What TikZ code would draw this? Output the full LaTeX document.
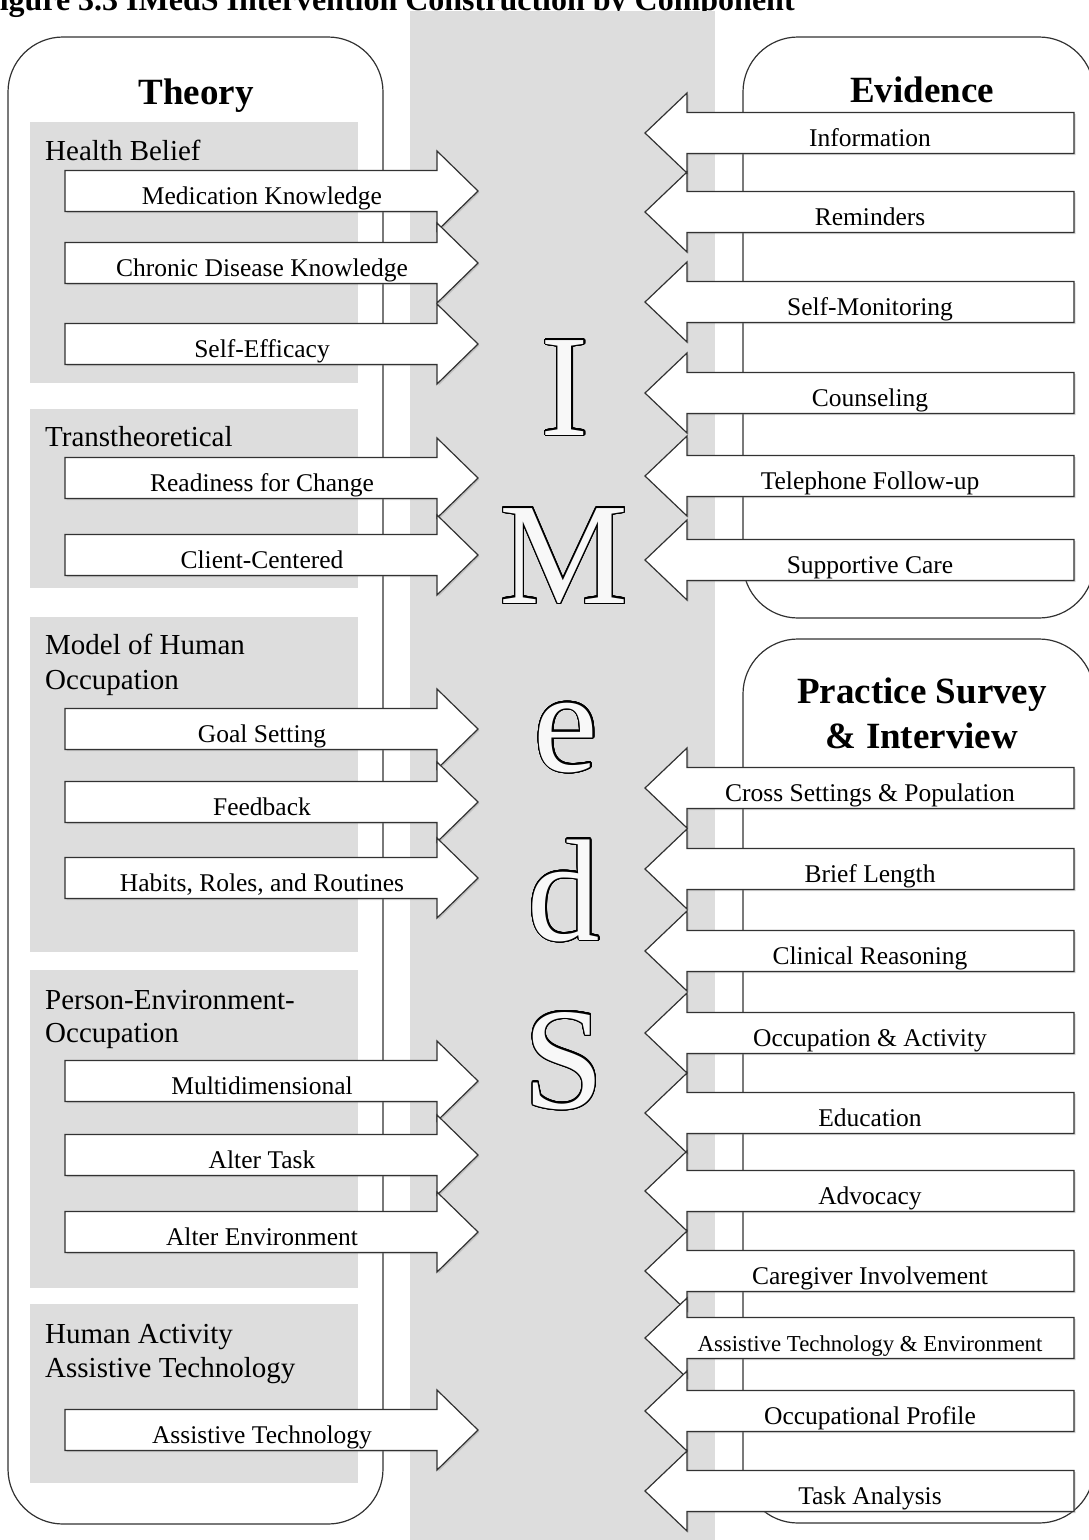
\documentclass[tikz,border=0pt]{standalone}
\usepackage{fontspec}
\setmainfont{Liberation Serif}
\usepackage{contour}
\usetikzlibrary{shadows}

\definecolor{bandgray}{RGB}{221,221,221}
\definecolor{boxgray}{RGB}{221,221,221}
\definecolor{letterfill}{RGB}{248,248,248}
\definecolor{edgegray}{RGB}{50,50,50}

\contourlength{1.3pt}
\contournumber{32}

\newcommand\imArrowR[3]{% name, y centre, label
  \path[arrowshape] (65,#2-20.5) -- (437,#2-20.5) -- (437,#2-40) -- (478,#2)
     -- (437,#2+40) -- (437,#2+20.5) -- (65,#2+20.5) -- cycle;
  \node[lbl] (#1) at (262,#2+13.5) {#3};
}
\newcommand\imArrowL[4][lbl]{% style, name, y centre, label
  \path[arrowshape] (1074,#3-20.5) -- (687,#3-20.5) -- (687,#3-40) -- (645,#3)
     -- (687,#3+40) -- (687,#3+20.5) -- (1074,#3+20.5) -- cycle;
  \node[#1] (#2) at (870,#3+13.5) {#4};
}

\begin{document}
\begin{tikzpicture}[x=1pt,y=-1pt,
  panel/.style={draw=edgegray, line width=1.2pt, fill=white, rounded corners=55pt},
  groupbox/.style={fill=boxgray, draw=none},
  grouptitle/.style={anchor=base west, font=\fontsize{29}{34}\selectfont, inner sep=0pt},
  paneltitle/.style={anchor=base, font=\fontsize{37}{44}\selectfont\bfseries, inner sep=0pt},
  arrowshape/.style={draw=edgegray, line width=1.2pt, fill=white,
     drop shadow={shadow xshift=1.5pt, shadow yshift=-1.5pt, opacity=0.3}},
  lbl/.style={font=\fontsize{25.5}{30}\selectfont, inner sep=0pt, anchor=base},
  smalllbl/.style={font=\fontsize{22.8}{27}\selectfont, inner sep=0pt, anchor=base},
  bigletter/.style={font=\fontsize{145}{150}\selectfont, anchor=base, inner sep=0pt}
]
\useasboundingbox (0,0) rectangle (1089,1540);
\clip (0,0) rectangle (1089,1540);

% figure caption (cut at the top edge, as in the reference)
\node[anchor=base west, font=\fontsize{32}{36}\selectfont\bfseries, inner sep=0pt]
  (figtitle) at (-20,10) {Figure 3.3 IMedS Intervention Construction by Component};

% central band
\fill[bandgray] (410,11) rectangle (715,1545);

% panels
\draw[panel] (8,37) rectangle (383,1524);
\draw[panel] (743,37) rectangle (1094,618);
\draw[panel] (743,639) rectangle (1094,1523);

% theory group boxes
\path[groupbox] (30,122) rectangle (358,383);
\path[groupbox] (30,409) rectangle (358,588);
\path[groupbox] (30,617) rectangle (358,952);
\path[groupbox] (30,970) rectangle (358,1288);
\path[groupbox] (30,1304) rectangle (358,1483);

% panel titles
\node[paneltitle] (theory) at (196,104) {Theory};
\node[paneltitle] (evidence) at (922,102) {Evidence};
\node[paneltitle] (practiceA) at (922,703) {Practice Survey};
\node[paneltitle] (practiceB) at (922,748) {\& Interview};

% group titles
\node[grouptitle] (hb) at (45,160) {Health Belief};
\node[grouptitle] (tt) at (45,446) {Transtheoretical};
\node[grouptitle] (mohoA) at (45,654) {Model of Human};
\node[grouptitle] (mohoB) at (45,689) {Occupation};
\node[grouptitle] (peoA) at (45,1009) {Person-Environment-};
\node[grouptitle] (peoB) at (45,1042) {Occupation};
\node[grouptitle] (haatA) at (45,1343) {Human Activity};
\node[grouptitle] (haatB) at (45,1377) {Assistive Technology};

% theory arrows
\imArrowR{medk}{191}{Medication Knowledge}
\imArrowR{cdk}{263}{Chronic Disease Knowledge}
\imArrowR{seff}{344}{Self-Efficacy}
\imArrowR{rfc}{478}{Readiness for Change}
\imArrowR{cc}{555}{Client-Centered}
\imArrowR{goal}{729}{Goal Setting}
\imArrowR{fb}{802}{Feedback}
\imArrowR{hrr}{878}{Habits, Roles, and Routines}
\imArrowR{multi}{1081}{Multidimensional}
\imArrowR{atask}{1155}{Alter Task}
\imArrowR{aenv}{1232}{Alter Environment}
\imArrowR{at}{1430}{Assistive Technology}

% evidence arrows
\imArrowL{info}{133}{Information}
\imArrowL{remind}{212}{Reminders}
\imArrowL{selfmon}{302}{Self-Monitoring}
\imArrowL{couns}{393}{Counseling}
\imArrowL{tel}{476}{Telephone Follow-up}
\imArrowL{supp}{560}{Supportive Care}

% practice arrows
\imArrowL{cross}{788}{Cross Settings \& Population}
\imArrowL{brief}{869}{Brief Length}
\imArrowL{clin}{951}{Clinical Reasoning}
\imArrowL{occact}{1033}{Occupation \& Activity}
\imArrowL{edu}{1113}{Education}
\imArrowL{adv}{1191}{Advocacy}
\imArrowL{care}{1271}{Caregiver Involvement}
\imArrowL[smalllbl]{atenv}{1338}{Assistive Technology \& Environment}
\imArrowL{occprof}{1411}{Occupational Profile}
\imArrowL{task}{1491}{Task Analysis}

% IMedS letters
\node[bigletter] (lI) at (565,435) {\color{letterfill}\contour{black}{I}};
\node[bigletter] (lM) at (564,603) {\color{letterfill}\contour{black}{M}};
\node[bigletter] (le) at (566,771) {\color{letterfill}\contour{black}{e}};
\node[bigletter] (ld) at (564,940) {\color{letterfill}\contour{black}{d}};
\node[bigletter] (lS) at (564,1108) {\color{letterfill}\contour{black}{S}};
\end{tikzpicture}
\end{document}
